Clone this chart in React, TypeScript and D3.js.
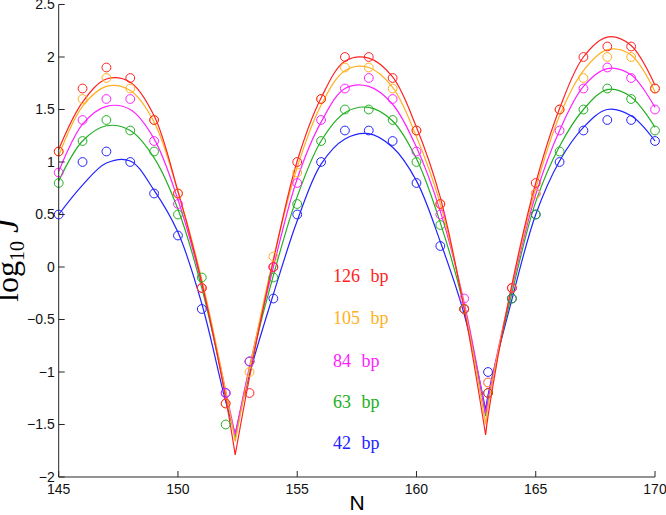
import React from "react";
import * as d3 from "d3";

// ---- data ----
const labels = ["126 bp", "105 bp", "84 bp", "63 bp", "42 bp"];
const colors = ["#ff2222", "#ffb020", "#ff22ff", "#22b022", "#2222ff"];

const Ns = [145,146,147,148,149,150,151,152,153,154,155,156,157,158,159,160,161,162,163,164,165,166,167,168,169,170];

// measured points (circles)
const pts126 = [1.1,1.7,1.9,1.8,1.4,0.7,-0.2,-1.3,-1.2,0.0,1.0,1.6,2.0,2.0,1.8,1.3,0.6,-0.4,-1.2,-0.2,0.8,1.5,2.0,2.1,2.1,1.7];
const pts105 = [1.1,1.6,1.8,1.7,1.4,0.7,-0.2,-1.3,-1.0,0.1,0.9,1.6,1.9,1.9,1.7,1.3,0.6,-0.4,-1.1,-0.2,0.7,1.5,1.8,2.0,2.0,1.7];
const pts84 = [0.9,1.4,1.6,1.6,1.2,0.6,-0.2,-1.2,-0.9,0.0,0.8,1.4,1.7,1.8,1.6,1.1,0.5,-0.3,-1.1,-0.2,0.7,1.3,1.7,1.9,1.8,1.5];
const pts63 = [0.8,1.2,1.4,1.3,1.1,0.5,-0.1,-1.5,-0.9,-0.1,0.6,1.2,1.5,1.5,1.4,1.0,0.4,-0.4,-1.2,-0.3,0.5,1.1,1.5,1.7,1.6,1.3];
const pts42 = [0.5,1.0,1.1,1.0,0.7,0.3,-0.4,-1.2,-0.9,-0.3,0.5,1.0,1.3,1.3,1.2,0.8,0.2,-0.4,-1.0,-0.3,0.5,1.0,1.3,1.4,1.4,1.2];

// fitted curves read at integer N, plus the two dips
const fit126 = [1.12,1.57,1.79,1.76,1.44,0.72,-0.15,-1.25,-1.05,0.06,1.01,1.61,1.96,1.99,1.81,1.33,0.66,-0.4,-1.42,-0.17,0.8,1.51,2.0,2.19,2.11,1.73];
const fit105 = [1.06,1.53,1.72,1.68,1.38,0.72,-0.12,-1.18,-0.97,0.08,0.95,1.54,1.87,1.9,1.71,1.24,0.6,-0.37,-1.33,-0.18,0.75,1.44,1.87,2.07,2.02,1.67];
const fit84 = [0.91,1.36,1.53,1.5,1.22,0.64,-0.16,-1.18,-0.95,0.0,0.84,1.38,1.7,1.72,1.55,1.14,0.53,-0.34,-1.26,-0.2,0.69,1.3,1.72,1.89,1.83,1.52];
const fit63 = [0.82,1.2,1.345,1.3,1.04,0.55,-0.2,-1.2,-0.97,-0.08,0.67,1.2,1.47,1.52,1.39,1.03,0.42,-0.38,-1.27,-0.25,0.62,1.15,1.5,1.69,1.62,1.33];
const fit42 = [0.5,0.78,0.99,1.01,0.73,0.33,-0.35,-1.28,-1.02,-0.26,0.44,0.98,1.22,1.27,1.14,0.82,0.24,-0.45,-1.22,-0.31,0.5,1.01,1.33,1.5,1.44,1.2];

const dipN = [152.4, 162.9];
const dip126 = [-1.79, -1.6];
const dip105 = [-1.66, -1.5];
const dip84 = [-1.6, -1.4];
const dip63 = [-1.63, -1.42];
const dip42 = [-1.59, -1.36];

const xTicks = [145, 150, 155, 160, 165, 170];
const yTicks = [-2, -1.5, -1, -0.5, 0, 0.5, 1, 1.5, 2, 2.5];

const series = [
  { pts: pts126, fit: fit126, dip: dip126 },
  { pts: pts105, fit: fit105, dip: dip105 },
  { pts: pts84, fit: fit84, dip: dip84 },
  { pts: pts63, fit: fit63, dip: dip63 },
  { pts: pts42, fit: fit42, dip: dip42 },
];

const W = 666, H = 515;
const x = d3.scaleLinear().domain([145, 170]).range([58.7, 655]);
const y = d3.scaleLinear().domain([-2, 2.5]).range([477, 4.5]);

const fmt = (v: number) => (v < 0 ? "\u2212" + String(-v) : String(v));

function curvePath(fit: number[], dip: number[]) {
  const all: [number, number][] = Ns.map((n, i) => [n, fit[i]]);
  const segs: [number, number][][] = [];
  const d1: [number, number] = [dipN[0], dip[0]];
  const d2: [number, number] = [dipN[1], dip[1]];
  segs.push([...all.filter(p => p[0] < dipN[0]), d1]);
  segs.push([d1, ...all.filter(p => p[0] > dipN[0] && p[0] < dipN[1]), d2]);
  segs.push([d2, ...all.filter(p => p[0] > dipN[1])]);
  const line = d3.line<[number, number]>()
    .x(p => x(p[0]))
    .y(p => y(p[1]))
    .curve(d3.curveCatmullRom.alpha(0.5));
  return segs.map(s => line(s)).join("");
}

export default function App() {
  const x0 = x.range()[0];
  const y0 = y.range()[0];
  const axisColor = "#262626";
  const legendY = [276, 318, 361, 402, 443];
  const order = [4, 3, 2, 1, 0];
  return (
    <svg width={W} height={H} style={{ position: "absolute", left: 0, top: 0, background: "#fff" }}>
      {/* curves */}
      {order.map(i => (
        <path key={"c" + i} d={curvePath(series[i].fit, series[i].dip)} fill="none" stroke={colors[i]} strokeWidth={1.2} />
      ))}
      {/* circles */}
      {order.map(i => (
        <g key={"p" + i}>
          {series[i].pts.map((v, j) => (
            <circle key={j} cx={x(Ns[j])} cy={y(v)} r={4.4} fill="none" stroke={colors[i]} strokeWidth={1} />
          ))}
        </g>
      ))}
      {/* axes */}
      <line x1={x0} x2={x0} y1={y(2.5)} y2={y0} stroke={axisColor} strokeWidth={1} />
      <line x1={x0} x2={x(170)} y1={y0} y2={y0} stroke={axisColor} strokeWidth={1} />
      {yTicks.map(t => (
        <g key={"yt" + t}>
          <line x1={x0} x2={x0 + 6} y1={y(t)} y2={y(t)} stroke={axisColor} />
          <text x={x0 - 4} y={y(t)} dy="0.35em" textAnchor="end" fontFamily="Liberation Sans, Arial, sans-serif" fontSize={14} fill="#111">{fmt(t)}</text>
        </g>
      ))}
      {xTicks.map(t => (
        <g key={"xt" + t}>
          <line x1={x(t)} x2={x(t)} y1={y0} y2={y0 - 6} stroke={axisColor} />
          <text x={x(t)} y={y0 + 17} textAnchor="middle" fontFamily="Liberation Sans, Arial, sans-serif" fontSize={14} fill="#111">{t}</text>
        </g>
      ))}
      <text x={357} y={510} textAnchor="middle" fontFamily="Liberation Sans, Arial, sans-serif" fontSize={21} fill="#000">N</text>
      <text transform="translate(18,302) rotate(-90)" fontFamily="Liberation Serif, serif" fontSize={32} fill="#000">
        <tspan>log</tspan>
        <tspan fontSize={20} dy={6}>10</tspan>
        <tspan dx={8} dy={-6} fontStyle="italic">J</tspan>
      </text>
      {/* legend labels */}
      {labels.map((l, i) => (
        <text key={"l" + i} x={333} y={legendY[i]} dy="0.35em" fontFamily="Liberation Serif, serif" fontSize={18} wordSpacing={6} fill={colors[i]}>{l}</text>
      ))}
    </svg>
  );
}
